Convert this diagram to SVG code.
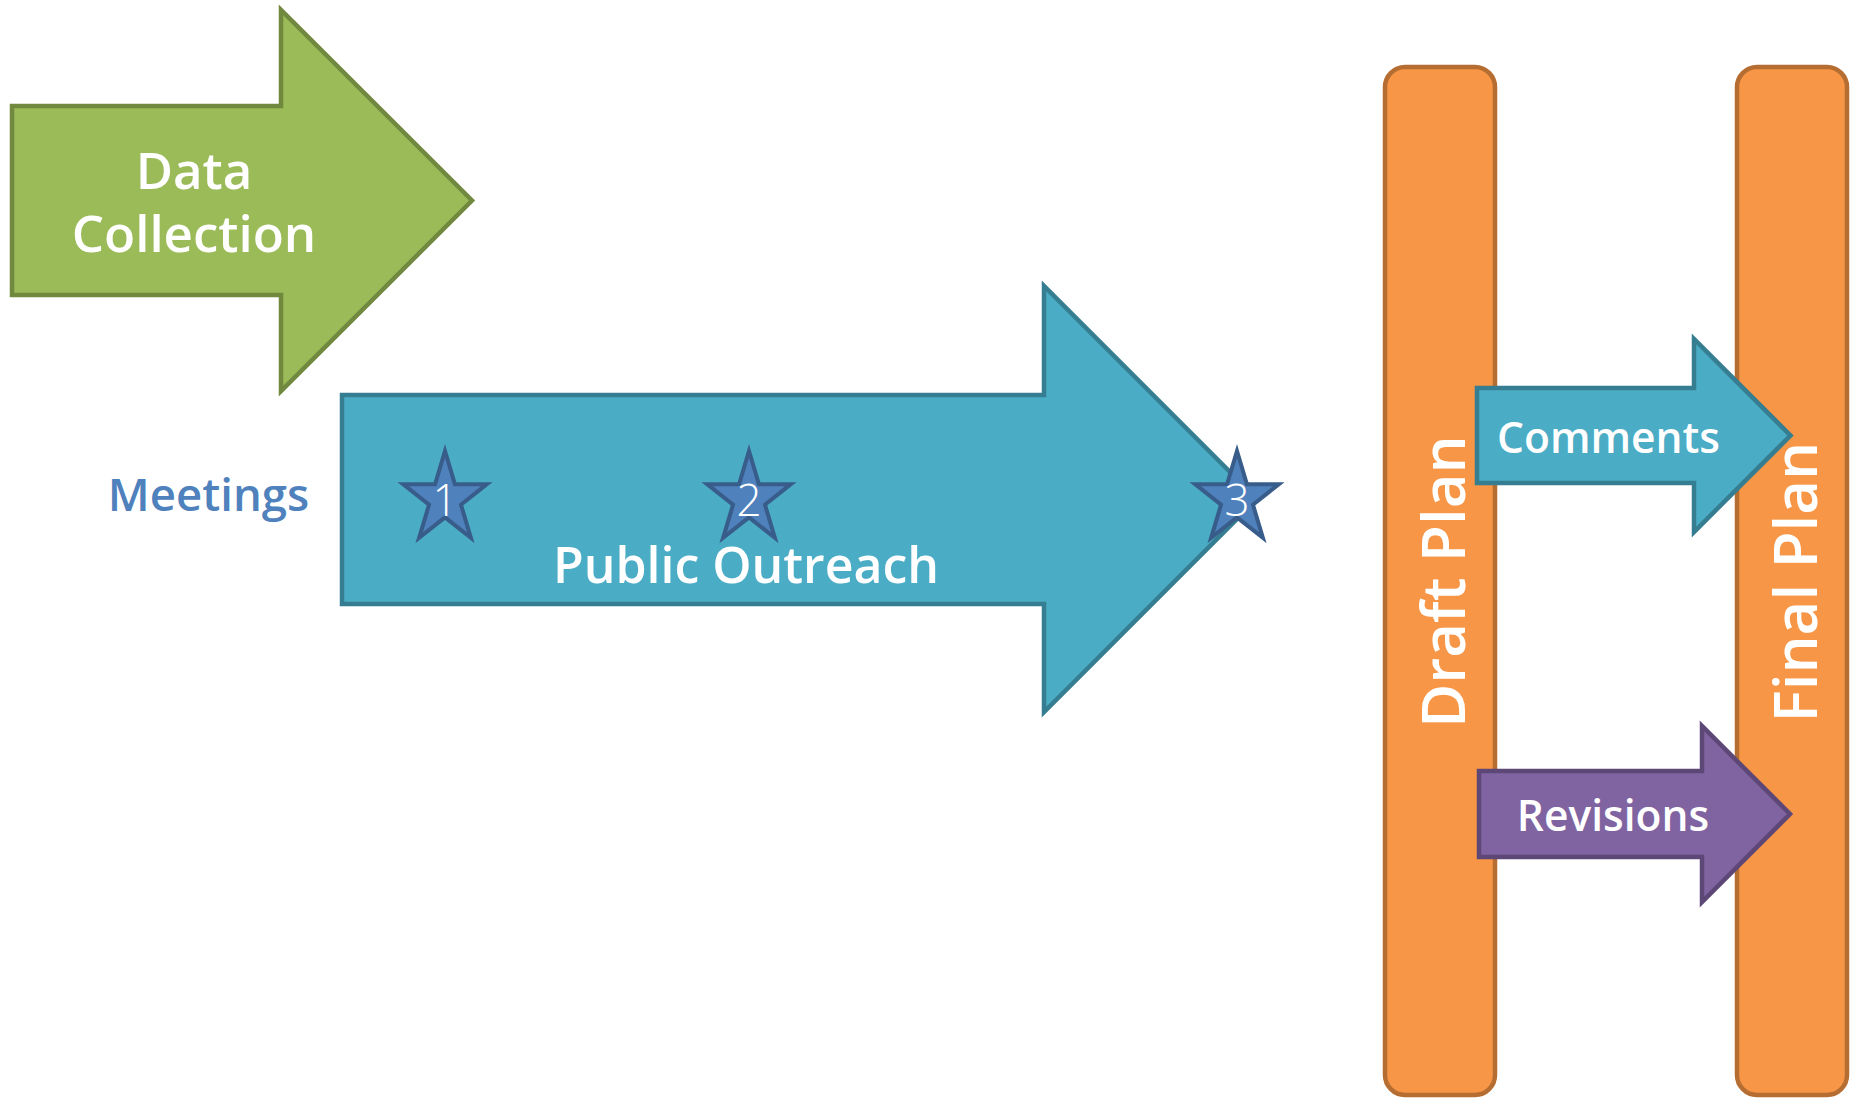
<svg xmlns="http://www.w3.org/2000/svg" width="1851" height="1102" viewBox="0 0 1851 1102">
<defs>
<style>
text{font-family:"Open Sans","Noto Sans","Liberation Sans",sans-serif;font-weight:600;fill:#ffffff;text-anchor:middle}
.green{fill:#9BBB59;stroke:#71893F;stroke-width:4.5}
.blue{fill:#4BACC6;stroke:#357D91;stroke-width:4.5}
.purple{fill:#8064A2;stroke:#5C4776;stroke-width:4.5}
.bar{fill:#F79646;stroke:#B66D31;stroke-width:4.5}
.star{fill:#4F81BD;stroke:#385D8A;stroke-width:4;stroke-linejoin:miter}
.num{font-weight:300;font-size:44px}
.big{font-size:51px}
.mid{font-size:42.5px}
.vert{font-size:60px}
</style>
<path id="star" d="M0,-48 L9.88,-14.83 L41.84,-14.83 L15.97,5.66 L25.87,38.83 L0,18.34 L-25.87,38.83 L-15.97,5.66 L-41.84,-14.83 L-9.88,-14.83 Z"/>
</defs>
<rect width="1851" height="1102" fill="#ffffff"/>
<g id="data-collection">
<path class="green" d="M12,106 H281 V10 L472,200.5 L281,391 V295 H12 Z"/>
<text class="big" x="194" y="189">Data</text>
<text class="big" x="194" y="252">Collection</text>
</g>
<g id="public-outreach">
<path class="blue" d="M342,395 H1044 V286 L1257,499 L1044,712 V604 H342 Z"/>
<text x="746" y="583" style="font-size:50px">Public Outreach</text>
</g>
<g id="meetings-label">
<text x="208.5" y="511" style="font-size:45.5px;fill:#4F81BD">Meetings</text>
</g>
<g id="meeting-1">
<use href="#star" class="star" x="445" y="499"/>
<text class="num" x="445" y="516">1</text>
</g>
<g id="meeting-2">
<use href="#star" class="star" x="749" y="499"/>
<text class="num" x="749" y="516">2</text>
</g>
<g id="meeting-3">
<use href="#star" class="star" x="1237" y="499"/>
<text class="num" x="1237" y="516">3</text>
</g>
<g id="draft-plan">
<rect class="bar" x="1385" y="67" width="110" height="1028" rx="20"/>
<text class="vert" transform="translate(1465,581.5) rotate(-90)">Draft Plan</text>
</g>
<g id="final-plan">
<rect class="bar" x="1737" y="67" width="110" height="1028" rx="20"/>
<text class="vert" transform="translate(1817,582) rotate(-90)">Final Plan</text>
</g>
<g id="comments">
<path class="blue" d="M1477,388 H1694 V339 L1790.5,435.5 L1694,532 V483 H1477 Z"/>
<text class="mid" x="1608.5" y="453">Comments</text>
</g>
<g id="revisions">
<path class="purple" d="M1479,771 H1702 V726 L1790,814 L1702,902 V857 H1479 Z"/>
<text class="mid" x="1613" y="831">Revisions</text>
</g>
<g id="connectors"></g>
</svg>
